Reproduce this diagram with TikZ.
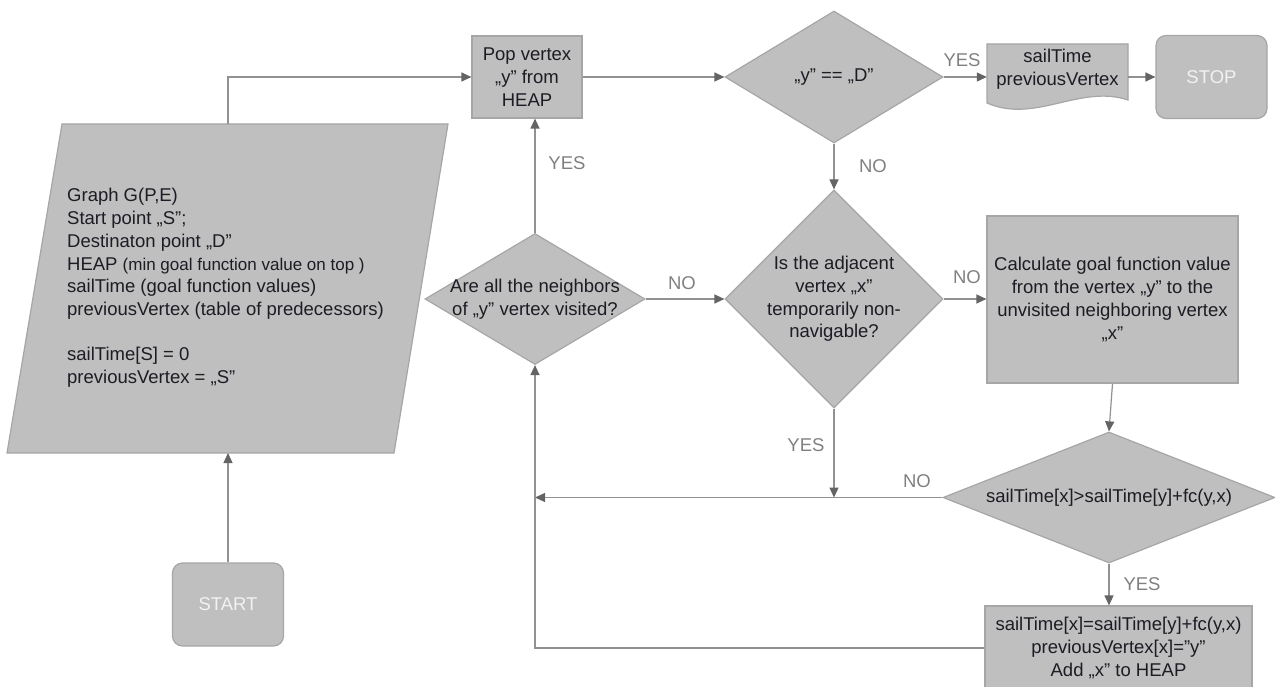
\documentclass[tikz,border=0pt]{standalone}
\usepackage{fontspec}
\setmainfont{Liberation Sans}
\usetikzlibrary{shapes.geometric,arrows.meta}

\definecolor{boxgray}{RGB}{191,191,191}
\definecolor{edgegray}{RGB}{166,166,166}
\definecolor{linegray}{RGB}{145,145,145}
\definecolor{tipgray}{RGB}{100,100,100}
\definecolor{labelgray}{RGB}{128,128,128}
\definecolor{textdark}{RGB}{28,28,36}

\tikzset{
  block/.style={rectangle, fill=boxgray, draw=edgegray, line width=1.2pt, text=textdark, align=center, inner sep=0pt},
  terminal/.style={block, rounded corners=10pt, text={white!95!black}, minimum width=111pt, minimum height=83pt},
  decision/.style={diamond, fill=boxgray, draw=edgegray, line width=1.2pt, text=textdark, align=center, inner sep=0pt},
  flow/.style={draw=linegray, line width=1.2pt, -{Triangle[length=10pt,width=9pt,color=tipgray]}},
  answer/.style={text=labelgray}
}

\begin{document}
\begin{tikzpicture}[x=1pt, y=-1pt, font=\fontsize{18.5}{22.7}\selectfont]
    \useasboundingbox (0,0) rectangle (1275,687);

    \filldraw[fill=boxgray, draw=edgegray, line width=1.2pt] (62,124) -- (448,124) -- (394,453) -- (7,453) -- cycle;
    \coordinate (intop) at (228,124);
    \coordinate (inbot) at (228,453);
    \node[text=textdark, align=left, inner sep=0pt, anchor=west] (input) at (67,288)
        {Graph G(P,E)\\ Start point „S”;\\ Destinaton point „D”\\
         HEAP {\fontsize{17}{22.7}\selectfont(min goal function value on top )}\\
         sailTime (goal function values)\\ previousVertex (table of predecessors)\\[22.7pt]
         sailTime[S] = 0\\ previousVertex = „S”};

    \node[terminal] (start) at (228,604.5) {START};

    \node[block, minimum width=110pt, minimum height=82pt] (pop) at (527,77) {Pop vertex\\ „y” from\\ HEAP};

    \node[decision, minimum width=218pt, minimum height=132pt] (d1) at (834,77) {„y” == „D”};

    \filldraw[fill=boxgray, draw=edgegray, line width=1.2pt] (987,44) -- (1128,44) -- (1128,100)
        .. controls (1080,84) and (1035,124) .. (987,103) -- cycle;
    \node[text=textdark, align=center, inner sep=0pt, minimum width=141pt] (doc) at (1057.5,69) {sailTime\\ previousVertex};

    \node[terminal] (stop) at (1211.5,77) {STOP};

    \node[decision, inner sep=-12pt, aspect=1.7, minimum width=220pt, minimum height=131pt] (d3) at (535,299)
        {Are all the neighbors\\ of „y” vertex visited?};

    \node[decision, inner sep=-12pt, minimum width=218pt, minimum height=218pt] (d2) at (834,299)
        {Is the adjacent\\ vertex „x”\\ temporarily non-\\ navigable?};

    \node[block, minimum width=251pt, minimum height=167pt] (calc) at (1112.5,299.5)
        {Calculate goal function value\\ from the vertex „y” to the\\ unvisited neighboring vertex\\ „x”};

    \node[decision, aspect=2.5, minimum width=332pt, minimum height=131pt] (d4) at (1109,497.5)
        {sailTime[x]>sailTime[y]+fc(y,x)};

    \node[block, minimum width=267pt, minimum height=84pt] (upd) at (1118.5,648)
        {sailTime[x]=sailTime[y]+fc(y,x)\\ previousVertex[x]=”y”\\ Add „x” to HEAP};

    \draw[flow] (start.north) -- (inbot);
    \draw[flow] (intop) |- (pop.west);
    \draw[flow] (pop.east) -- (d1.west);
    \draw[flow] (d1.east) -- (d1.east -| doc.west);
    \draw[flow] (stop.west -| doc.east) -- (stop.west);
    \draw[flow] (d1.south) -- (d2.north);
    \draw[flow] (d3.north) -- (d3.north |- pop.south);
    \draw[flow] (d3.east) -- (d2.west);
    \draw[flow] (d2.east) -- (d2.east -| calc.west);
    \draw[flow] (calc.south) -- (d4.north);
    \draw[flow] (d4.south) -- (d4.south |- upd.north);
    \draw[flow] (d4.west) -- (d4.west -| d3.south);
    \draw[flow] (d2.south) -- (d2.south |- d4.west);
    \draw[flow] (upd.west) -- (upd.west -| d3.south) -- (d3.south);

    \node[answer] (yes1) at (962,60) {YES};
    \node[answer] (no1) at (873,166) {NO};
    \node[answer] (yes2) at (567,163) {YES};
    \node[answer] (no2) at (682,283) {NO};
    \node[answer] (no3) at (967,277) {NO};
    \node[answer] (yes3) at (806,445) {YES};
    \node[answer] (no4) at (917,481) {NO};
    \node[answer] (yes4) at (1142,584) {YES};
\end{tikzpicture}
\end{document}
